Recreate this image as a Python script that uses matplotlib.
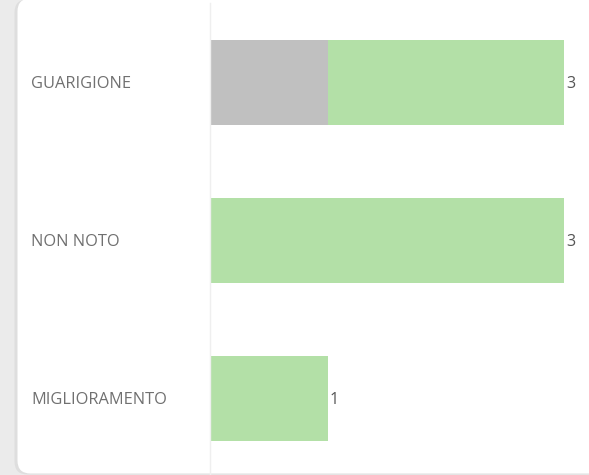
import matplotlib
matplotlib.use("Agg")
import matplotlib.pyplot as plt
from matplotlib.patches import FancyBboxPatch
from matplotlib.transforms import blended_transform_factory

categories = ["GUARIGIONE", "NON NOTO", "MIGLIORAMENTO"]
grey_values = [1, 0, 0]
green_values = [2, 3, 1]
totals = [g + v for g, v in zip(grey_values, green_values)]

W, H = 589, 475
fig = plt.figure(figsize=(W / 100, H / 100), dpi=100)
fig.patch.set_facecolor("#ebebeb")

# card background (bottom edge ~474 px from top)
shadow = FancyBboxPatch((14.5 / W, 0.5 / H), 1.0, 1.0,
                        boxstyle="round,pad=0,rounding_size=0.022",
                        transform=fig.transFigure, facecolor="#dedede",
                        edgecolor="none", zorder=-2, mutation_aspect=W / H)
fig.patches.append(shadow)
card = FancyBboxPatch((17.5 / W, 1.5 / H), 1.0, 1.0,
                      boxstyle="round,pad=0,rounding_size=0.022",
                      transform=fig.transFigure, facecolor="white",
                      edgecolor="none", zorder=-1, mutation_aspect=W / H)
fig.patches.append(card)

unit = 118.0
left_px = 210.0
ax = fig.add_axes([left_px / W, 0, 1 - left_px / W, 1 - 3 / H])
ax.set_facecolor("none")
ax.set_zorder(1)
ax.set_xlim(0, (W - left_px) / unit)
spacing = 158.0
ax.set_ylim((475 - 82.5) / spacing, -(82.5 - 3) / spacing)

y = list(range(len(categories)))
bh = 85.0 / spacing
ax.barh(y, grey_values, height=bh, color="#c0c0c0", edgecolor="none")
ax.barh(y, green_values, left=grey_values, height=bh, color="#b3e0a7", edgecolor="none")

for yi, t in zip(y, totals):
    ax.text(t + 2 / unit, yi, str(t), ha="left", va="center_baseline",
            fontsize=11.5, color="#555555", family="Open Sans")

for s in ["top", "right", "bottom"]:
    ax.spines[s].set_visible(False)
ax.spines["left"].set_color("#efefef")
ax.spines["left"].set_linewidth(1)
ax.set_xticks([])
ax.set_yticks([])

tr = blended_transform_factory(fig.transFigure, ax.transData)
for yi, c in zip(y, categories):
    ax.text(31 / W, yi, c, transform=tr, ha="left", va="center_baseline",
            fontsize=11.8, color="#707070", family="Open Sans")

fig.savefig("out.png", dpi=100, facecolor=fig.get_facecolor())
